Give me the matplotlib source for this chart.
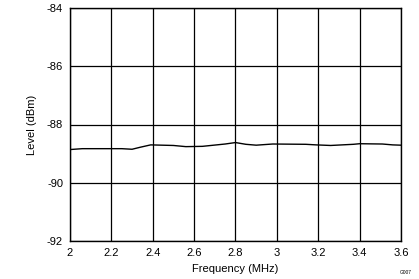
import matplotlib
matplotlib.use("Agg")
import matplotlib.pyplot as plt

# Level vs frequency
freq_mhz = [2.00, 2.06, 2.25, 2.30, 2.34, 2.39, 2.50, 2.56, 2.64, 2.75, 2.80,
            2.85, 2.90, 2.98, 3.14, 3.19, 3.26, 3.37, 3.40, 3.51, 3.56, 3.60]
level_dbm = [-88.86, -88.83, -88.83, -88.85, -88.78, -88.70, -88.72, -88.76,
             -88.75, -88.67, -88.62, -88.68, -88.71, -88.67, -88.68, -88.70,
             -88.72, -88.68, -88.66, -88.67, -88.70, -88.71]

x_ticks = [2, 2.2, 2.4, 2.6, 2.8, 3, 3.2, 3.4, 3.6]
x_labels = ["2", "2.2", "2.4", "2.6", "2.8", "3", "3.2", "3.4", "3.6"]
y_ticks = [-92, -90, -88, -86, -84]

plt.rcParams["font.family"] = ["Liberation Sans", "DejaVu Sans"]
plt.rcParams["axes.unicode_minus"] = False

fig = plt.figure(figsize=(4.19, 2.79), dpi=100)
ax = fig.add_axes([70 / 419, 1 - 241 / 279, 331 / 419, 233 / 279])

ax.plot(freq_mhz, level_dbm, color="black", lw=1.0)

ax.set_xlim(2, 3.6)
ax.set_ylim(-92, -84)
ax.set_xticks(x_ticks)
ax.set_xticklabels(x_labels)
ax.set_yticks(y_ticks)
ax.grid(True, color="black", lw=0.9)
ax.tick_params(length=0, labelsize=8, pad=5)
for sp in ax.spines.values():
    sp.set_color("black")
    sp.set_linewidth(1.0)

ax.set_xlabel("Frequency (MHz)", fontsize=8, labelpad=4)
ax.set_ylabel("Level (dBm)", fontsize=8, labelpad=7)
fig.text(412 / 419, 1 - 275 / 279, "G007", fontsize=3.5, ha="right", va="bottom")

fig.savefig("out.png", dpi=100)
